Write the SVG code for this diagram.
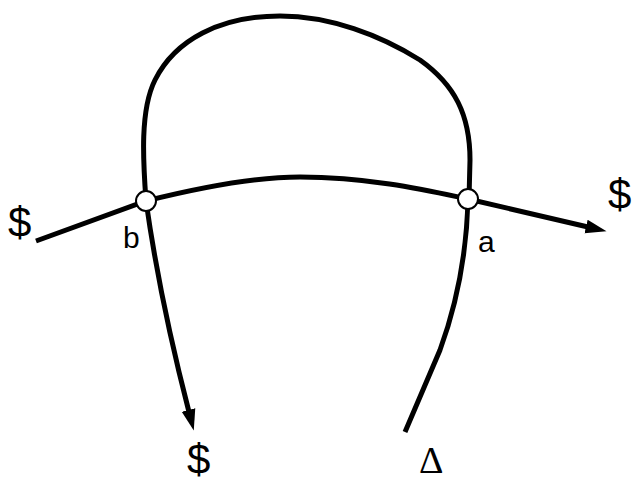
<svg xmlns="http://www.w3.org/2000/svg" width="634" height="482" viewBox="0 0 634 482">
<style>
.ln{fill:none;stroke:#000;stroke-width:5;stroke-linecap:butt}
.nd{fill:#fff;stroke:#000;stroke-width:2}
.lb{font-family:"Liberation Sans",Arial,sans-serif;fill:#000}
.sym{font-family:"Liberation Serif","Times New Roman",serif;fill:#000}
</style>
<defs>
<marker id="ah" markerUnits="userSpaceOnUse" markerWidth="22" markerHeight="16" refX="2" refY="8" orient="auto">
<path d="M0,1 L21,8 L0,15 Z" fill="#000"/>
</marker>
</defs>
<g id="connectors">
<path class="ln" d="M36,241 L146,201 C210,185 260,177 300,177 C370,177 430,191 468,199 L588,227" marker-end="url(#ah)"/>
<path class="ln" d="M146,201 C143,160 140,110 155,80 C175,40 220,16 280,16 C330,16 380,35 420,60 C455,85 470,115 470,160 L469,199"/>
<path class="ln" d="M146,201 Q160,300 189,412" marker-end="url(#ah)"/>
<path class="ln" d="M468,199 C467,240 462,290 440,350 L405,432"/>
</g>
<g id="node-b"><circle class="nd" cx="146" cy="201" r="10"/><text class="lb" x="123" y="248" font-size="30">b</text></g>
<g id="node-a"><circle class="nd" cx="468" cy="199" r="10"/><text class="lb" x="478" y="252" font-size="30">a</text></g>
<g id="label-left"><text class="lb" x="8" y="237" font-size="42">$</text></g>
<g id="label-right"><text class="lb" x="608" y="209" font-size="42">$</text></g>
<g id="label-bottom"><text class="lb" x="187" y="474" font-size="42">$</text></g>
<g id="label-delta"><text class="sym" x="419" y="473" font-size="38">Δ</text></g>
</svg>
